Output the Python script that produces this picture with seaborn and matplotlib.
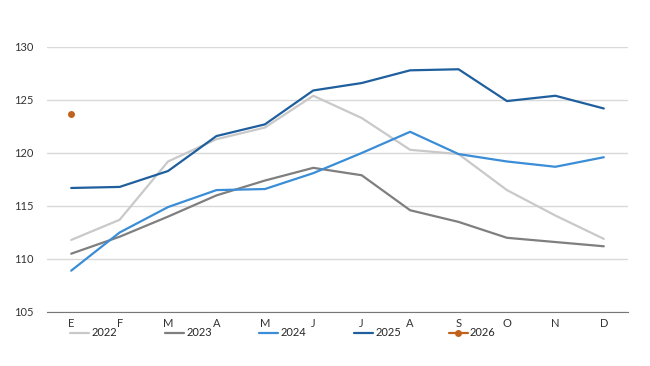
import matplotlib
matplotlib.use("Agg")
import matplotlib.pyplot as plt
from matplotlib.ticker import FixedLocator
import numpy as np
import pandas as pd
import seaborn as sns

months = ["E", "F", "M", "A", "M", "J", "J", "A", "S", "O", "N", "D"]

v2022 = [111.8, 113.7, 119.2, 121.3, 122.4, 125.4, 123.3, 120.3, 119.9, 116.5, 114.1, 111.9]
v2023 = [110.5, 112.1, 114.0, 116.0, 117.4, 118.6, 117.9, 114.6, 113.5, 112.0, 111.6, 111.2]
v2024 = [108.9, 112.5, 114.9, 116.5, 116.6, 118.1, 120.0, 122.0, 119.9, 119.2, 118.7, 119.6]
v2025 = [116.7, 116.8, 118.3, 121.6, 122.7, 125.9, 126.6, 127.8, 127.9, 124.9, 125.4, 124.2]
v2026 = [123.7]

series = {"2022": v2022, "2023": v2023, "2024": v2024, "2025": v2025, "2026": v2026}
colors = {"2022": "#c9c9c9", "2023": "#7f7f7f", "2024": "#3a8dd6",
          "2025": "#1f5f9e", "2026": "#c0621c"}

rows = []
for year, vals in series.items():
    for i, v in enumerate(vals):
        rows.append({"pos": i, "value": v, "year": year})
df = pd.DataFrame(rows)

sns.set_style("white")
plt.rcParams["font.family"] = ["Lato", "DejaVu Sans"]

fig = plt.figure(figsize=(6.5, 3.66), dpi=100)
ax = fig.add_axes([47 / 650, 1 - 312 / 366, (628 - 47) / 650, (312 - 47) / 366])

for year in ["2022", "2023", "2024", "2025"]:
    sns.lineplot(data=df[df["year"] == year], x="pos", y="value", ax=ax,
                 color=colors[year], linewidth=1.6, label=year)
sns.lineplot(data=df[df["year"] == "2026"], x="pos", y="value", ax=ax,
             color=colors["2026"], linewidth=1.6, marker="o", markersize=5,
             markeredgewidth=0, label="2026")

ax.set_xlim(-0.5, 11.5)
ax.set_ylim(105, 130)
ax.set_yticks([105, 110, 115, 120, 125, 130])
ax.set_xticks(range(12))
ax.set_xticklabels(months)
ax.xaxis.set_minor_locator(FixedLocator(np.arange(-0.5, 12, 1)))
ax.tick_params(axis="x", which="major", length=0, pad=4, labelsize=8, colors="#333333")
ax.tick_params(axis="x", which="minor", length=3.5, width=0.8, color="#777777", direction="out")
ax.tick_params(axis="y", length=0, pad=10, labelsize=8, colors="#333333")
ax.set_xlabel("")
ax.set_ylabel("")

ax.grid(axis="y", color="#d9d9d9", linewidth=1)
ax.set_axisbelow(True)
for s in ["top", "right", "left"]:
    ax.spines[s].set_visible(False)
ax.spines["bottom"].set_color("#777777")
ax.spines["bottom"].set_linewidth(0.8)

ax.get_legend().remove()
handles, labels = ax.get_legend_handles_labels()
fig.legend(handles, labels, loc="center", bbox_to_anchor=(283 / 650, 1 - 333 / 366),
           ncol=5, frameon=False, fontsize=8, handlelength=1.7, handletextpad=0.2,
           columnspacing=4.3)

fig.savefig("out.png", dpi=100)
